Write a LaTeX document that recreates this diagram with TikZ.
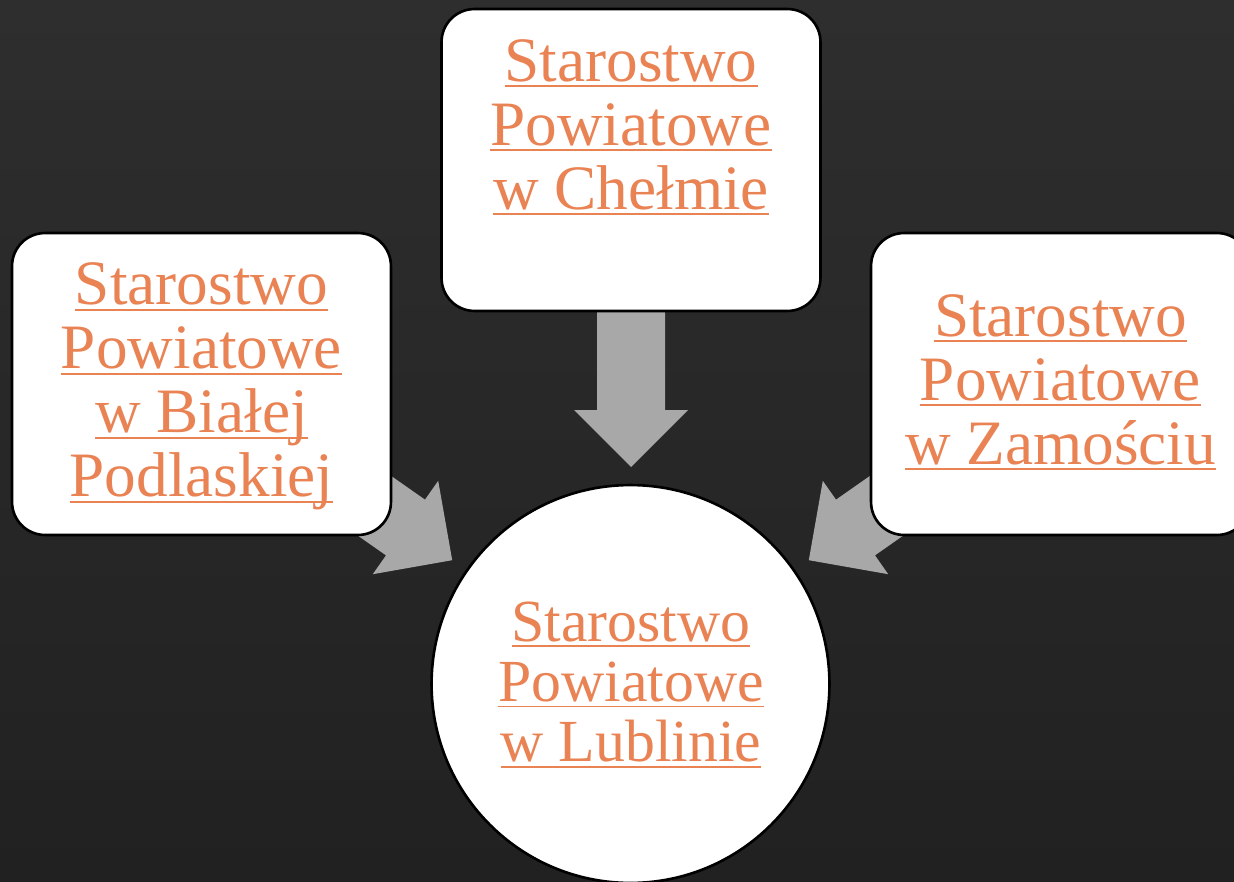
\documentclass[tikz,border=0pt]{standalone}
\usepackage{fontspec}
\setmainfont{Liberation Serif}
\definecolor{txtorange}{RGB}{234,131,84}
\definecolor{arrowgray}{RGB}{168,168,168}
\definecolor{bgtop}{RGB}{46,46,46}
\definecolor{bgbottom}{RGB}{33,33,33}
\newcommand\ulline[1]{\setbox0\hbox{#1}\rlap{\smash{\rule[-3.4pt]{\wd0}{1.1pt}}}\box0}
\begin{document}
\begin{tikzpicture}[x=0.02cm,y=-0.02cm,
  cardbox/.style={draw=black, line width=1.5pt, fill=white, rounded corners=0.66cm,
    minimum width=7.58cm, minimum height=6.04cm, inner sep=0pt},
  hubcircle/.style={circle, draw=black, line width=1.5pt, fill=white,
    minimum size=7.96cm, inner sep=0pt},
  boxtext/.style={text=txtorange, align=center, inner sep=0pt,
    font=\fontsize{36}{36.4}\selectfont},
  hubtext/.style={text=txtorange, align=center, inner sep=0pt,
    font=\fontsize{34}{34.2}\selectfont},
  blockarrow/.style={fill=arrowgray}]
\useasboundingbox (0,0) rectangle (1234,882);
\shade[top color=bgtop, bottom color=bgbottom] (0,0) rectangle (1234,882);

% block arrows (drawn first, partly hidden behind the boxes)
\begin{scope}[shift={(631,410)}, rotate=-90]
  \fill[blockarrow] (-150,-34) -- (0,-34) -- (0,-57) -- (57,0) -- (0,57) -- (0,34) -- (-150,34) -- cycle;
\end{scope}
\begin{scope}[shift={(405.5,527.5)}, rotate=-35]
  \fill[blockarrow] (-150,-34) -- (0,-34) -- (0,-57) -- (57,0) -- (0,57) -- (0,34) -- (-150,34) -- cycle;
\end{scope}
\begin{scope}[shift={(855.5,527.5)}, rotate=-145]
  \fill[blockarrow] (-150,-34) -- (0,-34) -- (0,-57) -- (57,0) -- (0,57) -- (0,34) -- (-150,34) -- cycle;
\end{scope}

% boxes
\node[cardbox] (chelm) at (631,160) {};
\node[cardbox] (biala) at (201.5,384) {};
\node[cardbox] (zamosc) at (1060.5,384) {};
\node[hubcircle] (lublin) at (630.5,684) {};

% texts
\node[boxtext] (chelmtxt) at (631,124.5) {\ulline{Starostwo}\\\ulline{Powiatowe}\\\ulline{w Chełmie}};
\node[boxtext] (bialatxt) at (201.5,386.5) {\ulline{Starostwo}\\\ulline{Powiatowe}\\\ulline{w Białej}\\\ulline{Podlaskiej}};
\node[boxtext] (zamosctxt) at (1060.5,379.5) {\ulline{Starostwo}\\\ulline{Powiatowe}\\\ulline{w Zamościu}};
\node[hubtext] (lublintxt) at (631,682) {\ulline{Starostwo}\\\ulline{Powiatowe}\\\ulline{w Lublinie}};
\end{tikzpicture}
\end{document}
